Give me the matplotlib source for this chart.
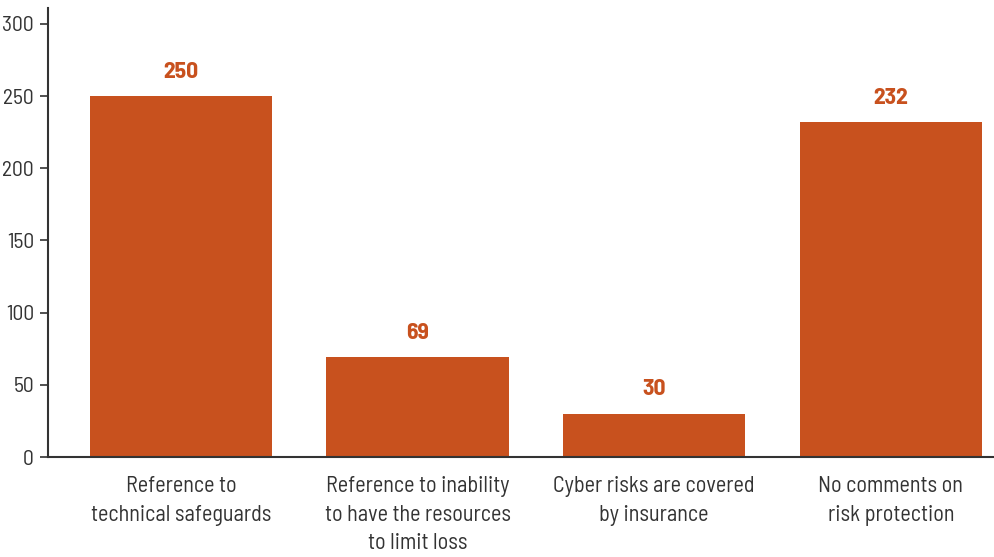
import matplotlib.pyplot as plt
from matplotlib import font_manager
import numpy as np

categories = [
    "Reference to\ntechnical safeguards",
    "Reference to inability\nto have the resources\nto limit loss",
    "Cyber risks are covered\nby insurance",
    "No comments on\nrisk protection",
]
values = [250, 69, 30, 232]
yticks = [0, 50, 100, 150, 200, 250, 300]

bar_color = "#C8511E"
text_color = "#333333"

names = {f.name for f in font_manager.fontManager.ttflist}
narrow = "Barlow Semi Condensed" if "Barlow Semi Condensed" in names else "DejaVu Sans"
plt.rcParams["font.family"] = [narrow, "DejaVu Sans"]

fig = plt.figure(figsize=(9.95, 5.57), dpi=100)
ax = fig.add_axes([0.0482, 0.1795, 0.9518, 0.806])

x = np.arange(len(categories))
ax.bar(x, values, width=0.77, color=bar_color, zorder=2)

for xi, v in zip(x, values):
    ax.text(xi, v + 10, str(v), ha="center", va="bottom",
            color=bar_color, fontsize=17, fontweight="bold")

ax.set_xlim(-0.562, 3.44)
ax.set_ylim(0, 311)
ax.set_yticks(yticks)
ax.set_xticks(x)
ax.set_xticklabels(categories, fontsize=16, color=text_color, linespacing=1.45)

ax.tick_params(axis="y", length=6, width=1.2, color=text_color,
               labelsize=15.5, labelcolor=text_color, pad=4)
ax.tick_params(axis="x", length=0, pad=14)

for side in ["top", "right"]:
    ax.spines[side].set_visible(False)
for side in ["left", "bottom"]:
    ax.spines[side].set_color(text_color)
    ax.spines[side].set_linewidth(1.5)

fig.savefig("out.png", dpi=100)
